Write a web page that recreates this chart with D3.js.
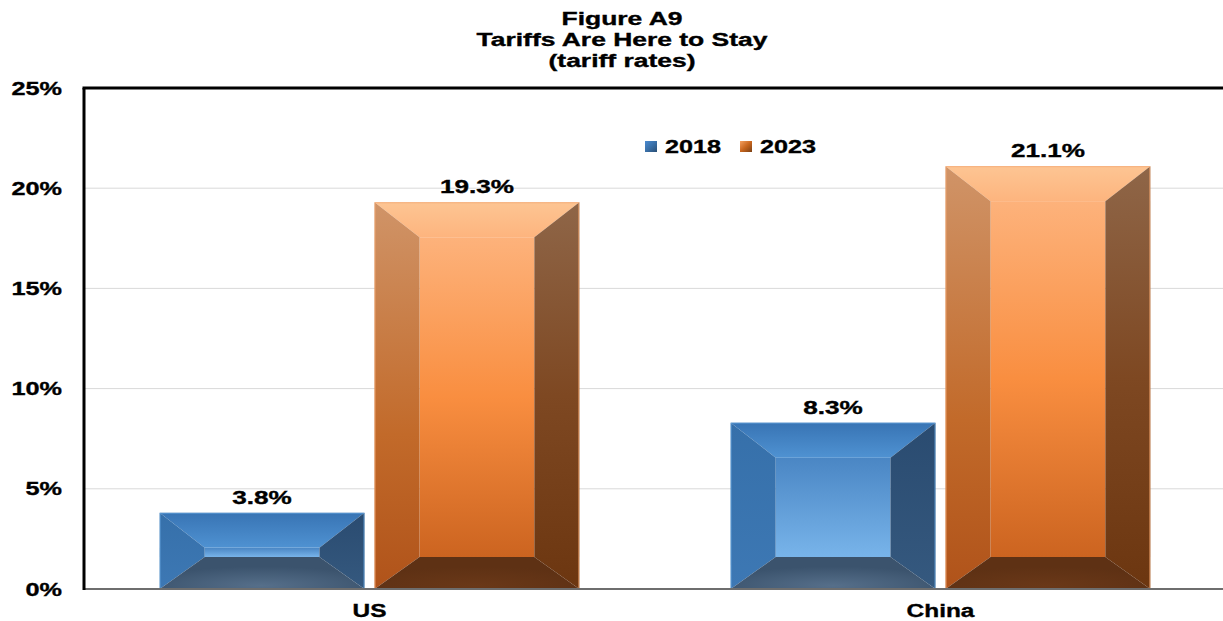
<!DOCTYPE html>
<html>
<head>
<meta charset="utf-8">
<script src="https://cdn.jsdelivr.net/npm/d3@7"></script>
<style>
  html, body { margin: 0; padding: 0; background: #fff; }
  svg { display: block; }
  text { font-family: "Liberation Sans", Arial, sans-serif; font-weight: bold; fill: #000;
         stroke: #000; stroke-width: 0.35px; }
</style>
</head>
<body>
<svg id="chart" width="1223" height="621"></svg>
<script>
// Tariff rates by country, 2018 vs 2023
const categories = ["US", "China"];
const series = ["2018", "2023"];
const values2018 = [0.038, 0.083];
const values2023 = [0.193, 0.211];
const valueLabels2018 = ["3.8%", "8.3%"];
const valueLabels2023 = ["19.3%", "21.1%"];
const yTicks = [0, 0.05, 0.10, 0.15, 0.20, 0.25];
const yTickLabels = ["0%", "5%", "10%", "15%", "20%", "25%"];
const titleLines = ["Figure A9", "Tariffs Are Here to Stay", "(tariff rates)"];

const svg = d3.select("#chart");
const W = 1223;
const plot = { left: 84, right: 1226, top: 88, bottom: 589 };

const y = d3.scaleLinear().domain([0, 0.25]).range([plot.bottom, plot.top]);
const x0 = d3.scaleBand().domain(categories).range([plot.left, plot.right])
  .paddingInner(0.265).paddingOuter(0.1325);
const x1 = d3.scaleBand().domain(series).range([0, x0.bandwidth()]).paddingInner(0.047);

// horizontally widened bold text
function wideText(g, x, yPos, str, size, sx, anchor) {
  return g.append("text")
    .attr("transform", `translate(${x},${yPos}) scale(${sx},1)`)
    .attr("text-anchor", anchor || "middle")
    .style("font-size", size + "px")
    .text(str);
}

// ---------- gradients ----------
const defs = svg.append("defs");
function linGrad(id, stops, x2, y2) {
  const g = defs.append("linearGradient").attr("id", id)
    .attr("x1", 0).attr("y1", 0).attr("x2", x2 == null ? 0 : x2).attr("y2", y2 == null ? 1 : y2);
  stops.forEach(s => g.append("stop").attr("offset", s[0]).attr("stop-color", s[1]));
}
function radGrad(id, stops, cx, cy, r) {
  const g = defs.append("radialGradient").attr("id", id)
    .attr("cx", cx).attr("cy", cy).attr("r", r);
  stops.forEach(s => g.append("stop").attr("offset", s[0]).attr("stop-color", s[1]));
}

const palette = {
  "2018": {
    top: [[0, "#3874b4"], [1, "#4f92d2"]],
    inner: [[0, "#4a86c4"], [1, "#78b4ea"]],
    left: [[0, "#3670aa"], [1, "#3d78b4"]],
    right: [[0, "#2a4b70"], [1, "#35597f"]],
    bottom: [[0, "#566f8a"], [1, "#3b536d"]],
    edge: "#5b9bd5",
    icon: [[0, "#4a8ad0"], [0.5, "#3a70a8"], [1, "#2a4e74"]]
  },
  "2023": {
    top: [[0, "#fdc593"], [1, "#fdb47e"]],
    inner: [[0, "#fdb27b"], [0.5, "#f98e40"], [1, "#cc6420"]],
    left: [[0, "#d09468"], [0.6, "#c26a2a"], [1, "#b0531a"]],
    right: [[0, "#8f6648"], [0.5, "#7e4822"], [1, "#6c3610"]],
    bottom: [[0, "#6a3818"], [1, "#5e3114"]],
    edge: "#f2a56e",
    icon: [[0, "#f5a060"], [0.5, "#c8661e"], [1, "#7a4014"]]
  }
};
series.forEach(s => {
  const p = palette[s];
  linGrad(`g${s}top`, p.top);
  linGrad(`g${s}inner`, p.inner);
  linGrad(`g${s}left`, p.left);
  linGrad(`g${s}right`, p.right);
  radGrad(`g${s}bottom`, p.bottom, 0.5, 0.9, 0.6);
  linGrad(`g${s}icon`, p.icon, 1, 1);
});

// ---------- gridlines ----------
svg.append("g").selectAll("line")
  .data(yTicks.filter(t => t > 0 && t < 0.25))
  .join("line")
  .attr("x1", plot.left).attr("x2", W)
  .attr("y1", d => y(d)).attr("y2", d => y(d))
  .attr("stroke", "#d9d9d9").attr("stroke-width", 1);

// ---------- bars ----------
const SIDE = 45, TOP = 35, BOT = 32;
const rows = [];
categories.forEach((c, i) => {
  rows.push({ cat: c, ser: "2018", v: values2018[i], label: valueLabels2018[i] });
  rows.push({ cat: c, ser: "2023", v: values2023[i], label: valueLabels2023[i] });
});

const barG = svg.append("g");
rows.forEach(r => {
  const bx = x0(r.cat) + x1(r.ser);
  const bw = x1.bandwidth();
  const by = y(r.v);
  const bh = y(0) - by;
  const b = Math.min(BOT, bh / 2);
  const t = Math.max(0, Math.min(TOP, bh - b));
  const s = SIDE;
  const pts = a => a.map(p => p.join(",")).join(" ");
  const g = barG.append("g");
  // inner face
  g.append("rect").attr("x", bx + s).attr("y", by + t)
    .attr("width", bw - 2 * s).attr("height", Math.max(0, bh - t - b))
    .attr("fill", `url(#g${r.ser}inner)`);
  g.append("polygon").attr("points", pts([[bx, by], [bx + bw, by], [bx + bw - s, by + t], [bx + s, by + t]]))
    .attr("fill", `url(#g${r.ser}top)`);
  g.append("polygon").attr("points", pts([[bx, by], [bx + s, by + t], [bx + s, by + bh - b], [bx, by + bh]]))
    .attr("fill", `url(#g${r.ser}left)`);
  g.append("polygon").attr("points", pts([[bx + bw, by], [bx + bw - s, by + t], [bx + bw - s, by + bh - b], [bx + bw, by + bh]]))
    .attr("fill", `url(#g${r.ser}right)`);
  g.append("polygon").attr("points", pts([[bx, by + bh], [bx + s, by + bh - b], [bx + bw - s, by + bh - b], [bx + bw, by + bh]]))
    .attr("fill", `url(#g${r.ser}bottom)`);
  g.append("rect").attr("x", bx + 0.5).attr("y", by + 0.5).attr("width", bw - 1).attr("height", bh - 1)
    .attr("fill", "none").attr("stroke", palette[r.ser].edge).attr("stroke-width", 1).attr("stroke-opacity", 0.8);
  // value label
  wideText(svg, bx + bw / 2, by - 9, r.label, 18, 1.45);
});

// ---------- axes / frame ----------
svg.append("line").attr("x1", plot.left).attr("x2", W).attr("y1", y(0)).attr("y2", y(0))
  .attr("stroke", "#6e6e6e").attr("stroke-width", 2);
svg.append("line").attr("x1", plot.left - 1.5).attr("x2", W).attr("y1", plot.top).attr("y2", plot.top)
  .attr("stroke", "#000").attr("stroke-width", 3);
svg.append("line").attr("x1", plot.left).attr("x2", plot.left).attr("y1", plot.top).attr("y2", y(0) + 1)
  .attr("stroke", "#000").attr("stroke-width", 3);

// y tick labels
const yAxisG = svg.append("g");
yTicks.forEach((t, i) => wideText(yAxisG, 62, y(t) + 6.5, yTickLabels[i], 19, 1.33, "end"));

// category labels
categories.forEach(c => wideText(svg, x0(c) + x0.bandwidth() / 2, 617, c, 18.5, 1.32));

// ---------- legend ----------
const legend = svg.append("g");
const legendX = { "2018": 645, "2023": 740 };
series.forEach(s => {
  legend.append("rect").attr("x", legendX[s]).attr("y", 141).attr("width", 12).attr("height", 11)
    .attr("fill", `url(#g${s}icon)`);
  wideText(legend, legendX[s] + 20, 153, s, 18, 1.4, "start");
});

// ---------- title ----------
const titleY = [25, 46, 67];
titleLines.forEach((l, i) => wideText(svg, 622, titleY[i], l, 18, 1.47));
</script>
</body>
</html>
